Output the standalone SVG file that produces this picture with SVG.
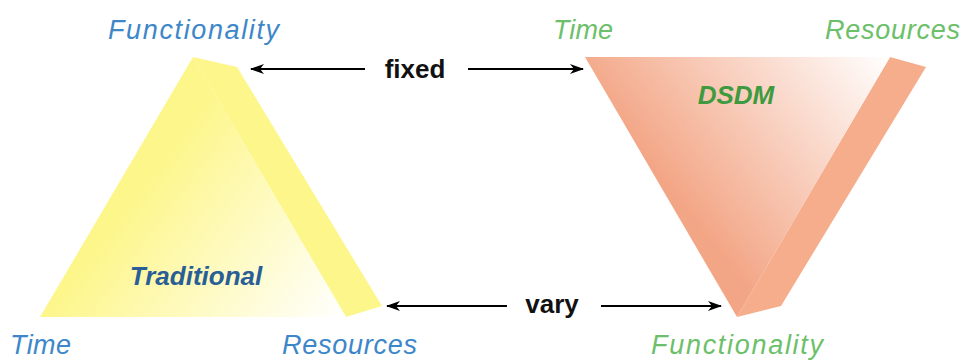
<svg xmlns="http://www.w3.org/2000/svg" width="963" height="361" viewBox="0 0 963 361">
<style>
.lbl{font-family:"Liberation Sans",Arial,sans-serif;font-style:italic;font-size:27px}
.blue{fill:#3D87C9}
.green{fill:#6CC06A}
.title{font-family:"Liberation Sans",Arial,sans-serif;font-style:italic;font-weight:bold;font-size:26px}
.word{font-family:"Liberation Sans",Arial,sans-serif;font-weight:bold;font-size:26px;fill:#111}
.conn{stroke:#000;stroke-width:2;fill:none;marker-end:url(#ah)}
</style>
<defs>
<marker id="ah" viewBox="0 0 14 10" refX="13" refY="5" markerWidth="14" markerHeight="10" markerUnits="userSpaceOnUse" orient="auto">
<path d="M0,0 L14,5 L0,10 L4,5 Z" fill="#000"/>
</marker>
<linearGradient id="gy" gradientUnits="userSpaceOnUse" x1="150" y1="170" x2="345" y2="317">
<stop offset="0" stop-color="#FDF68A"/>
<stop offset="1" stop-color="#FFFFFF"/>
</linearGradient>
<linearGradient id="gs" gradientUnits="userSpaceOnUse" x1="890" y1="57" x2="690" y2="215">
<stop offset="0" stop-color="#FFFFFF"/>
<stop offset="1" stop-color="#F3A686"/>
</linearGradient>
</defs>
<g id="traditional">
<polygon points="193,57 237,67 382,306 346,317" fill="#FDF68A"/>
<polygon points="193,57 40,317 346,317" fill="url(#gy)"/>
<text class="title" x="196" y="285" text-anchor="middle" fill="#2A5E96">Traditional</text>
<text class="lbl blue" x="108" y="39" textLength="171" lengthAdjust="spacing">Functionality</text>
<text class="lbl blue" x="10" y="354" textLength="61" lengthAdjust="spacing">Time</text>
<text class="lbl blue" x="282" y="354" textLength="135" lengthAdjust="spacing">Resources</text>
</g>
<g id="dsdm">
<polygon points="890,57 926,67 781,306 737,317" fill="#F5AD8C"/>
<polygon points="585,57 890,57 737,317" fill="url(#gs)"/>
<text class="title" x="736" y="104" text-anchor="middle" fill="#3E9A3E">DSDM</text>
<text class="lbl green" x="553" y="39" textLength="60" lengthAdjust="spacing">Time</text>
<text class="lbl green" x="825" y="39" textLength="135" lengthAdjust="spacing">Resources</text>
<text class="lbl green" x="651" y="354" textLength="172" lengthAdjust="spacing">Functionality</text>
</g>
<g id="fixed">
<text class="word" x="415" y="78" text-anchor="middle">fixed</text>
</g>
<g id="vary">
<text class="word" x="552" y="313" text-anchor="middle">vary</text>
</g>
<g id="connectors">
<line class="conn" x1="365" y1="69" x2="251" y2="69"/>
<line class="conn" x1="468" y1="69" x2="583" y2="69"/>
<line class="conn" x1="507" y1="306" x2="387" y2="306"/>
<line class="conn" x1="601" y1="306" x2="721" y2="306"/>
</g>
</svg>
